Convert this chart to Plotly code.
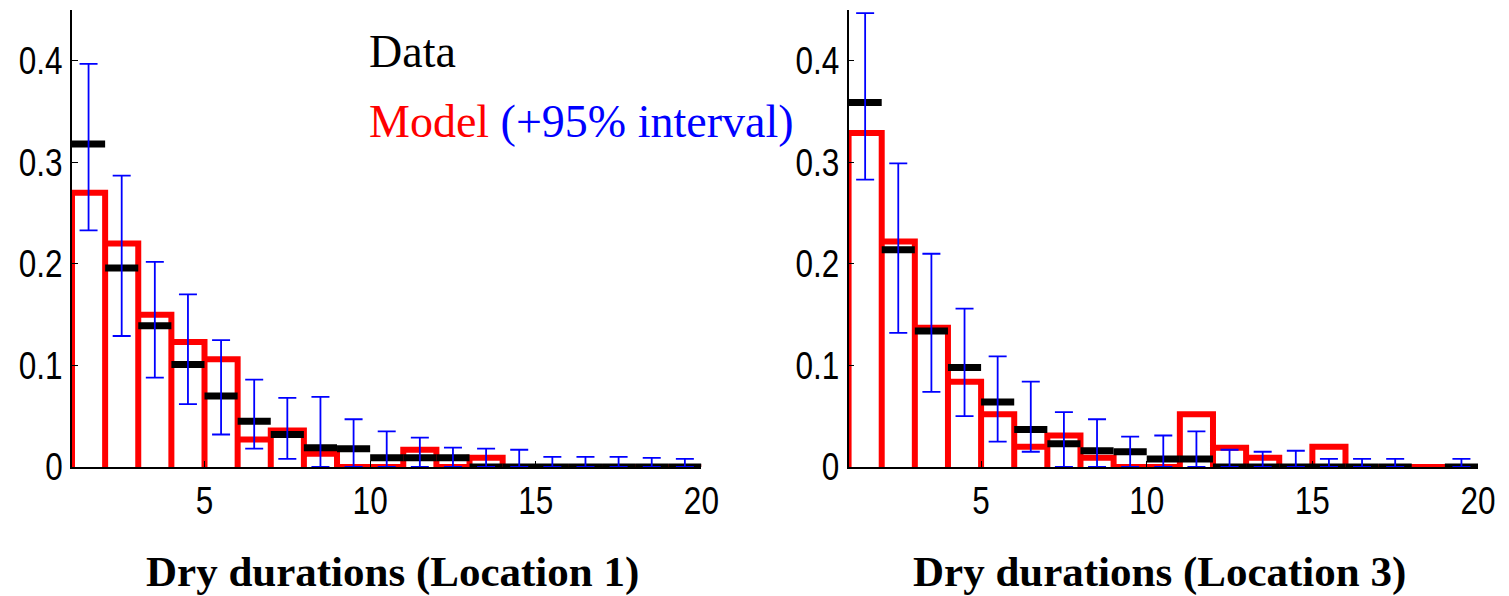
import plotly.graph_objects as go

# Bin left edges (durations); each bin spans [k, k+1]
bins = list(range(1, 20))

# Location 1
left_data = [0.318, 0.196, 0.139, 0.101, 0.070, 0.045, 0.032, 0.019, 0.018, 0.009,
             0.009, 0.009, 0.0, 0.0, 0.0, 0.0, 0.0, 0.0, 0.0]
left_model = [0.270, 0.220, 0.150, 0.123, 0.106, 0.027, 0.036, 0.013, 0.0, 0.0,
              0.017, 0.0, 0.009, 0.0, 0.0, 0.0, 0.0, 0.0, 0.0]
left_hi = [0.397, 0.287, 0.202, 0.170, 0.125, 0.086, 0.068, 0.069, 0.047, 0.035,
           0.029, 0.019, 0.018, 0.017, 0.010, 0.010, 0.010, 0.009, 0.008]
left_lo = [0.233, 0.129, 0.088, 0.062, 0.032, 0.018, 0.008, 0.0, 0.0, 0.0,
           0.0, 0.0, 0.0, 0.0, 0.0, 0.0, 0.0, 0.0, 0.0]

# Location 3
right_data = [0.359, 0.214, 0.134, 0.098, 0.064, 0.037, 0.023, 0.016, 0.015, 0.008,
              0.008, 0.0, 0.0, 0.0, 0.0, 0.0, 0.0, None, 0.0]
right_model = [0.329, 0.222, 0.137, 0.084, 0.052, 0.020, 0.031, 0.009, 0.0, 0.0,
               0.052, 0.019, 0.009, 0.0, 0.020, 0.0, 0.0, 0.0, 0.0]
right_hi = [0.447, 0.299, 0.210, 0.156, 0.109, 0.084, 0.054, 0.047, 0.030, 0.031,
            0.035, 0.017, 0.015, 0.016, 0.008, 0.008, 0.008, None, 0.008]
right_lo = [0.283, 0.132, 0.074, 0.050, 0.025, 0.015, 0.0, 0.0, 0.0, 0.0,
            0.0, 0.0, 0.0, 0.0, 0.0, 0.0, 0.0, None, 0.0]

y_ticks = [0, 0.1, 0.2, 0.3, 0.4]
y_ticktext = ["0", "0.1", "0.2", "0.3", "0.4"]
x_ticks = [5, 10, 15, 20]
x_ticktext = ["5", "10", "15", "20"]
titles = ["Dry durations (Location 1)", "Dry durations (Location 3)"]

RED = "#ff0000"
BLUE = "#0000ff"
TICKFONT = dict(family="Liberation Sans Narrow, Arial Narrow, Liberation Sans, Arial", size=38, color="black")
SERIF = "Liberation Serif, Times New Roman, serif"

fig = go.Figure()


def add_panel(data, model, hi, lo, xa, ya):
    # model: open-bottom bar outlines
    mx, my = [], []
    for k, v in zip(bins, model):
        mx += [k, k, k + 1, k + 1]
        my += [0, v, v, 0]
    fig.add_trace(go.Scatter(x=mx, y=my, mode="lines",
                             line=dict(color=RED, width=6),
                             xaxis=xa, yaxis=ya, showlegend=False, hoverinfo="skip"))
    # data: short horizontal segments
    dx, dy = [], []
    for k, v in zip(bins, data):
        if v is None:
            continue
        dx += [k, k + 1, None]
        dy += [v, v, None]
    fig.add_trace(go.Scatter(x=dx, y=dy, mode="lines",
                             line=dict(color="black", width=7),
                             xaxis=xa, yaxis=ya, showlegend=False, hoverinfo="skip"))
    # 95% interval error bars
    ex, ey, eup = [], [], []
    for k, h, l in zip(bins, hi, lo):
        if h is None:
            continue
        ex.append(k + 0.5)
        ey.append(l)
        eup.append(h - l)
    fig.add_trace(go.Scatter(x=ex, y=ey, mode="markers",
                             marker=dict(size=1, opacity=0),
                             error_y=dict(type="data", symmetric=False, array=eup,
                                          arrayminus=[0] * len(eup), color=BLUE,
                                          thickness=1.8, width=9),
                             xaxis=xa, yaxis=ya, showlegend=False, hoverinfo="skip"))


add_panel(left_data, left_model, left_hi, left_lo, "x", "y")
add_panel(right_data, right_model, right_hi, right_lo, "x2", "y2")

W, H = 1509, 596
ml, mr, mt, mb = 70, 25, 10, 129
pw = W - ml - mr
ph = H - mt - mb
left_end = (703 - ml) / pw
right_start = (851 - ml) / pw

xcommon = dict(range=[1, 20], tickvals=x_ticks, ticktext=x_ticktext, ticks="inside",
               ticklen=6, tickcolor="black", showline=True, linecolor="black", linewidth=1.5,
               showgrid=False, zeroline=False, tickfont=TICKFONT, fixedrange=True)
ycommon = dict(range=[0, 0.45], tickvals=y_ticks, ticktext=y_ticktext, ticks="inside",
               ticklen=6, tickcolor="black", showline=True, linecolor="black", linewidth=1.5,
               showgrid=False, zeroline=False, tickfont=TICKFONT, fixedrange=True)

fig.update_layout(
    width=W, height=H,
    margin=dict(l=ml, r=mr, t=mt, b=mb),
    paper_bgcolor="white", plot_bgcolor="white",
    xaxis=dict(domain=[0, left_end], anchor="y", **xcommon),
    yaxis=dict(domain=[0, 1], anchor="x", **ycommon),
    xaxis2=dict(domain=[right_start, 1], anchor="y2", **xcommon),
    yaxis2=dict(domain=[0, 1], anchor="x2", **ycommon),
)


def py(ypix):
    return (H - mb - ypix) / ph


def px(xpix):
    return (xpix - ml) / pw


annotations = [
    dict(x=px(367), y=py(52), xref="paper", yref="paper", xanchor="left", yanchor="middle",
         text="Data", showarrow=False, font=dict(family=SERIF, size=46, color="black")),
    dict(x=px(367), y=py(121), xref="paper", yref="paper", xanchor="left", yanchor="middle",
         text="<span style='color:#ff0000'>Model</span> <span style='color:#0000ff'>(+95% interval)</span>",
         showarrow=False, font=dict(family=SERIF, size=46, color="black")),
    dict(x=px(392), y=py(572), xref="paper", yref="paper", xanchor="center", yanchor="middle",
         text="<b>" + titles[0] + "</b>", showarrow=False,
         font=dict(family=SERIF, size=43, color="black")),
    dict(x=px(1164), y=py(572), xref="paper", yref="paper", xanchor="center", yanchor="middle",
         text="<b>" + titles[1] + "</b>", showarrow=False,
         font=dict(family=SERIF, size=43, color="black")),
]
fig.update_layout(annotations=annotations)

# Narrow (Helvetica-Narrow-like) tick labels: condense the real SVG text horizontally
post_js = """
var gd = document.getElementById('{plot_id}');
function squeeze() {
  gd.querySelectorAll('.xaxislayer-above text, .yaxislayer-above text').forEach(function (t) {
    if (t.getAttribute('data-sq') === t.textContent) { return; }
    t.removeAttribute('textLength');
    var w = t.getComputedTextLength();
    t.setAttribute('textLength', (w * 0.83).toFixed(1));
    t.setAttribute('lengthAdjust', 'spacingAndGlyphs');
    t.setAttribute('data-sq', t.textContent);
  });
}
squeeze();
gd.on('plotly_afterplot', squeeze);
"""

fig.write_html("out.html", config={"displayModeBar": False}, post_script=post_js)
